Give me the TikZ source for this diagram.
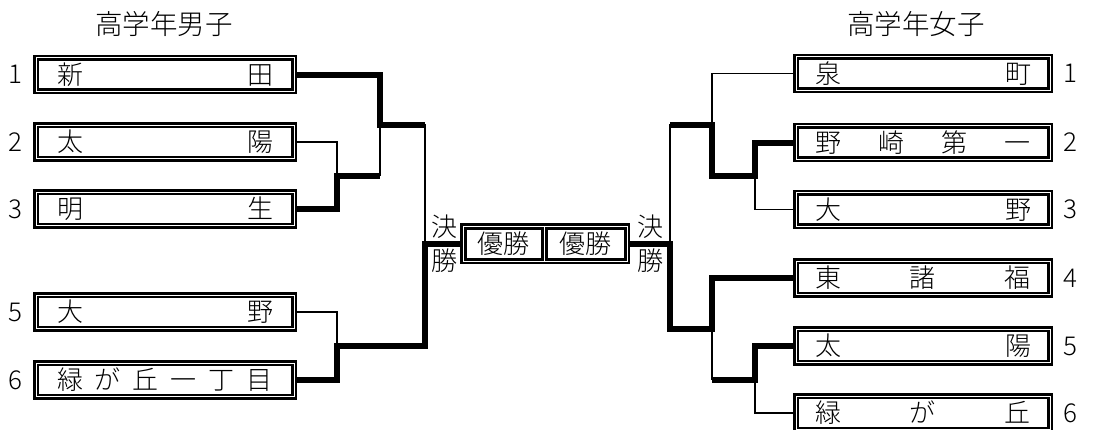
\documentclass[tikz,border=0pt]{standalone}
\usepackage{fontspec}
\setmainfont{Noto Sans CJK JP}[UprightFont={* Light}]
\usetikzlibrary{backgrounds}

\begin{document}
\begin{tikzpicture}[x=1pt, y=-1pt]
% Stili per squadre, linee e scritte
\tikzset{
  team/.style={draw, double, line width=2.5pt, double distance=1pt, fill=white,
    inner sep=0pt, minimum height=33.5pt, font=\fontsize{26}{26}\selectfont},
  win/.style={line width=6pt},
  lose/.style={line width=1.7pt, line cap=rect},
  lbl/.style={font=\fontsize{26}{34}\selectfont, inner sep=0pt}
}
\useasboundingbox (0,0) rectangle (1094,429);

% Titoli
\node[lbl, font=\fontsize{27.5}{30}\selectfont] (TL) at (164,24) {高学年男子};
\node[lbl, font=\fontsize{27.5}{30}\selectfont] (TR) at (916,24) {高学年女子};

% Squadre a sinistra
\foreach \i/\y/\t in {1/74.5/{新\hfil 田}, 2/142/{太\hfil 陽}, 3/209/{明\hfil 生},
                      5/312/{大\hfil 野}, 6/380/{緑\hfil が\hfil 丘\hfil 一\hfil 丁\hfil 目}} {
  \node[team, minimum width=258pt] (L\i) at (165,\y) {\hbox to 216pt{\t}};
  \node[lbl] (NL\i) at (15,\y) {\i};
}

% Squadre a destra
\foreach \i/\y/\t in {1/73.5/{泉\hfil 町}, 2/142.5/{野\hfil 崎\hfil 第\hfil 一}, 3/209.5/{大\hfil 野},
                      4/278/{東\hfil 諸\hfil 福}, 5/346/{太\hfil 陽}, 6/413/{緑\hfil が\hfil 丘}} {
  \node[team, minimum width=254pt] (R\i) at (923,\y) {\hbox to 216pt{\t}};
  \node[lbl] (NR\i) at (1070,\y) {\i};
}

% Finale
\node[draw, line width=2.5pt, fill=white, inner sep=0pt, outer sep=0pt,
      minimum width=167.5pt, minimum height=38.5pt] (W) at (545,243.5) {};
\node[lbl, draw, line width=3pt, minimum width=77pt, minimum height=31pt] (W1) at (503.5,243.5) {優勝};
\node[lbl, draw, line width=3pt, minimum width=79pt, minimum height=31pt] (W2) at (585.5,243.5) {優勝};
\node[lbl, align=center] (KL) at (444,243.5) {決\\勝};
\node[lbl, align=center] (KR) at (650,243.5) {決\\勝};

% Punti di giunzione
\coordinate (LA) at (337,175.5);
\coordinate (LB) at (380,125);
\coordinate (LC) at (337,346);
\coordinate (LD) at (425,243.5);
\coordinate (RA) at (755,176);
\coordinate (RB) at (712,125);
\coordinate (RC) at (755,379.5);
\coordinate (RD) at (712,328.5);
\coordinate (RE) at (670,243.5);

\begin{scope}[on background layer]
% --- SINISTRA ---
\draw[lose] (L2.east) -| (LA);
\draw[lose] (L5.east) -| (LC);
\draw[lose] (LB) -- (LA -| LB);
\draw[lose] (LB -| LD) -- (LD);
\draw[win] (L1.east) -| (LB) -- (LB -| LD);
\draw[win] (L3.east) -| (LA) -- (LA -| LB);
\draw[win] (L6.east) -| (LC) -- (LC -| LD) |- (W.west);

% --- DESTRA ---
\draw[lose] (R1.west) -| (RB);
\draw[lose] (R3.west) -| (RA);
\draw[lose] (R6.west) -| (RC);
\draw[lose] (RB -| RE) -- (RE);
\draw[lose] (RC -| RD) -- (RD);
\draw[win] (R2.west) -| (RA) -- (RA -| RB) -- (RB) -- (RB -| RE);
\draw[win] (R5.west) -| (RC) -- (RC -| RD);
\draw[win] (R4.west) -| (RD) -- (RD -| RE) |- (W.east);
\end{scope}

\end{tikzpicture}
\end{document}
